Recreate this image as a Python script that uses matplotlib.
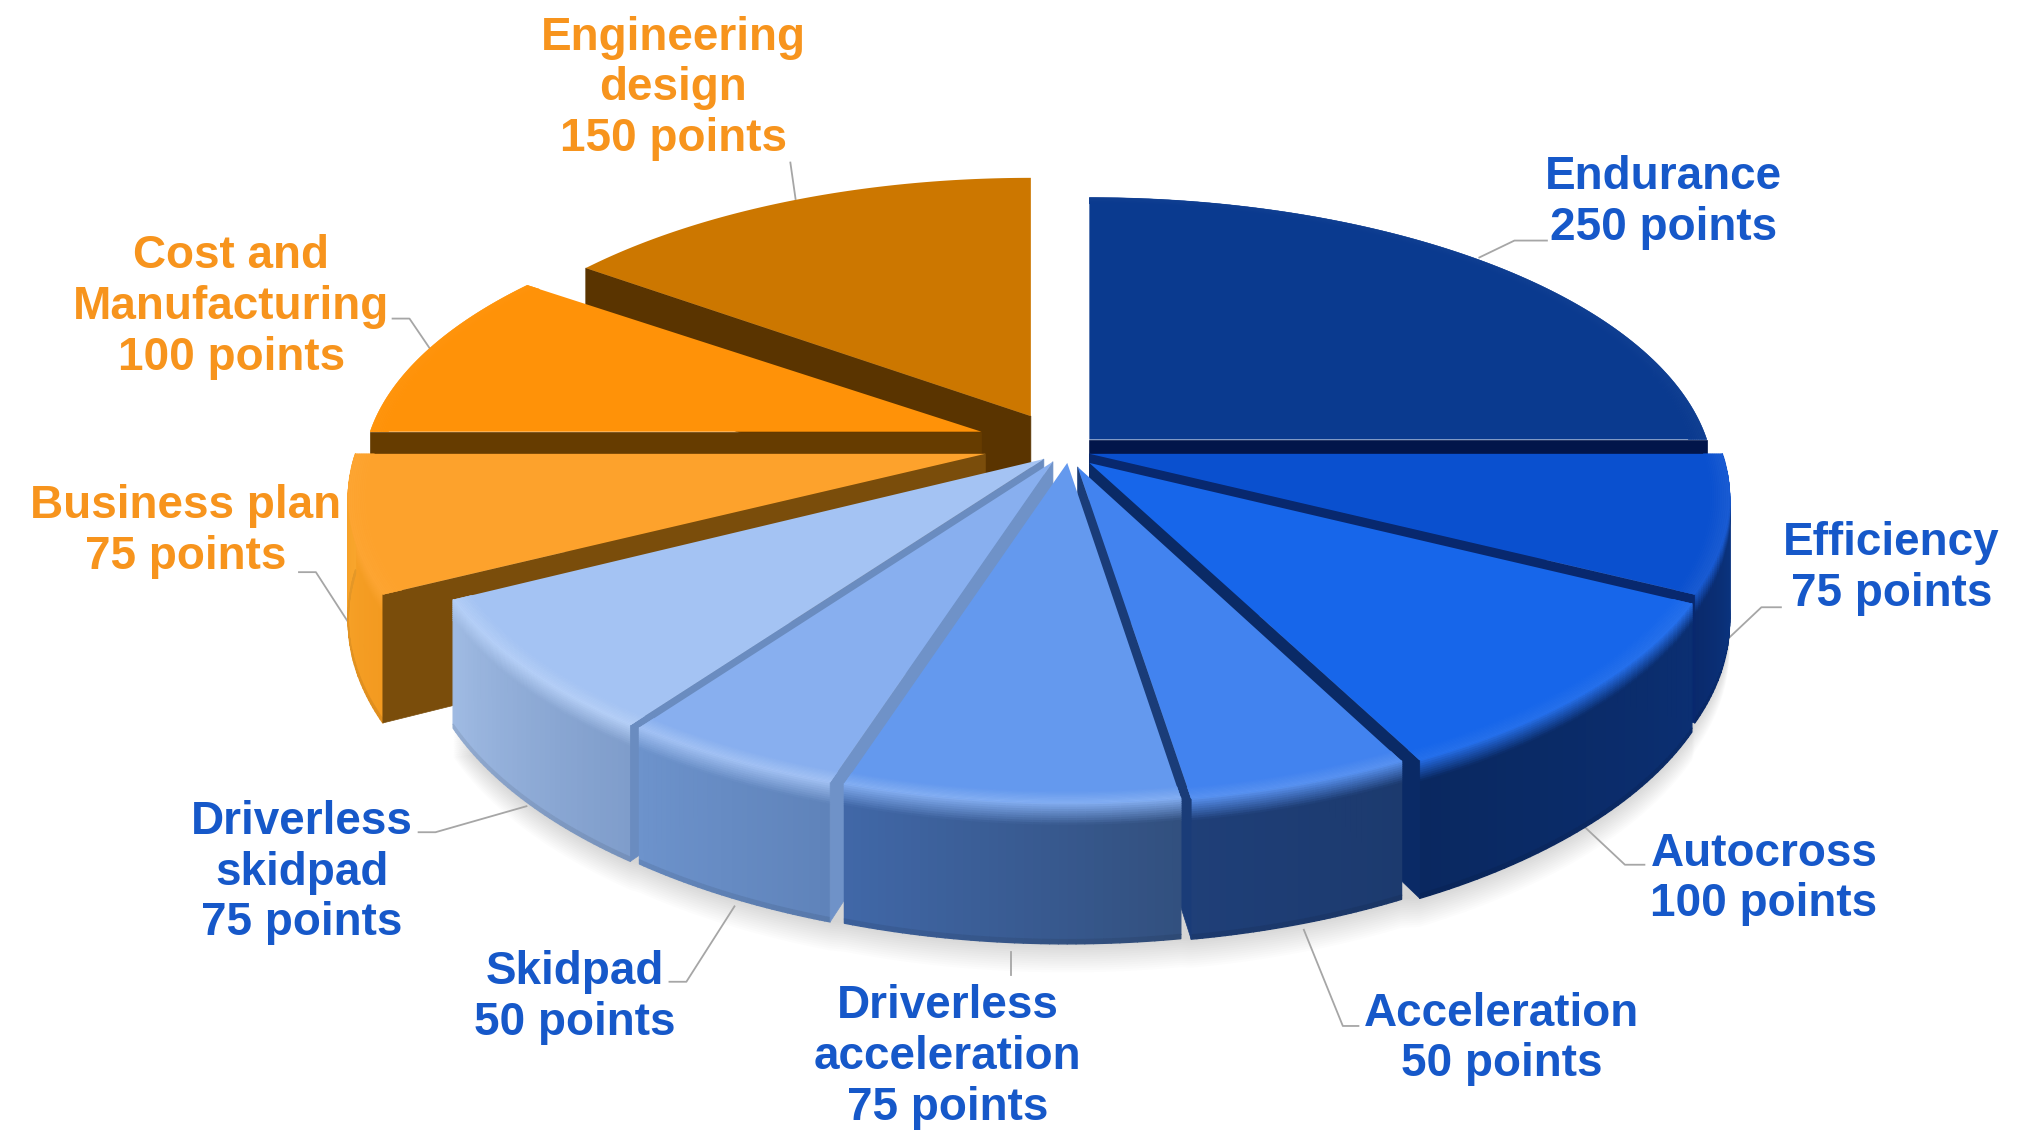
import numpy as np
import matplotlib
matplotlib.use("Agg")
import matplotlib.pyplot as plt
from matplotlib.collections import PolyCollection
from matplotlib.colors import to_rgb

events = ["Endurance", "Efficiency", "Autocross", "Acceleration", "Driverless\nacceleration",
          "Skidpad", "Driverless\nskidpad", "Business plan", "Cost and\nManufacturing", "Engineering\ndesign"]
points = [250, 75, 100, 50, 75, 50, 75, 75, 100, 150]

BLUE = "#1658c9"
ORANGE = "#f7941d"
text_colors = [BLUE] * 7 + [ORANGE] * 3

# look of the slices
top_colors = ["#0a3a8f", "#0a50cf", "#1766ea", "#4283ef", "#6499ee",
              "#88afef", "#a4c3f3", "#fda22c", "#ff9208", "#cc7700"]
wall_right = ["#0a2f78", "#0a3a8c", "#0b2f72", "#1c3a6e", "#32507f",
              "#5f83ba", "#7f9dcb", "#f39a20", "#d98200", "#a86200"]
wall_left = ["#0a2f78", "#0a2a6c", "#0a2860", "#1f3f78", "#4168a8",
             "#6d93cc", "#a0bbe3", "#f8a52c", "#d98200", "#a86200"]
cut_colors = ["#02154a", "#08286e", "#0a2a66", "#1a3c78", "#1a3c78",
              "#6f92c8", "#6a8cc0", "#7a4d0b", "#663c00", "#5a3400"]
bevel = [0.02, 0.05, 0.05, 0.10, 0.18, 0.22, 0.22, 0.05, 0.03, 0.0]

# where each slice tip ends up on the page (pie is exploded by hand in the original)
tips = [(838, 338), (838, 349), (838, 356), (829, 359), (821, 356),
        (810, 355), (803, 353), (758, 349), (755, 332), (793, 320)]
stretch_x = [1, 1.025, 1.02, 1, 1, 1, 1, 1.02, 0.99, 0.97]
stretch_y = [0.965, 1, 1, 0.99, 1, 1, 1, 1, 0.94, 0.95]

# label centres and leader lines, page coordinates
label_pos = [(1280, 156), (1455, 437), (1357, 676), (1155, 799), (729, 813),
             (442, 767), (232, 671), (143, 409), (178, 236), (518, 68)]
leaders = [[(1190, 185), (1165, 185), (1138, 198)],
           [(1370, 467), (1355, 467), (1320, 500)],
           [(1265, 665), (1250, 665), (1218, 635)],
           [(1045, 789), (1033, 789), (1003, 715)],
           [(778, 750), (778, 732)],
           [(515, 755), (528, 755), (565, 697)],
           [(322, 640), (335, 640), (405, 620)],
           [(230, 440), (243, 440), (285, 505)],
           [(302, 245), (315, 245), (332, 270)],
           [(608, 125), (612, 153)]]

W, H = 1567, 869
RX, RY, PERSP, DEPTH = 475, 222, 0.151, 92


def project(theta, r, z, i):
    # theta in degrees clockwise from the back of the pie
    t = np.radians(theta)
    x = r * np.sin(t)
    y = -r * np.cos(t)
    p = 1 / (1 - PERSP * y)
    return tips[i][0] + RX * stretch_x[i] * x * p, tips[i][1] + RY * stretch_y[i] * y * p + DEPTH * z * p


def mix(c1, c2, f):
    return tuple((1 - f) * a + f * b for a, b in zip(to_rgb(c1), to_rgb(c2)))


def draw_shadow(ax, edges):
    for grow in np.linspace(0, 22, 14):
        xs, ys = [], []
        for i in range(1, 7):
            th = np.linspace(edges[i], edges[i + 1], 30)
            x, y = project(th, 1.0, 1.0, i)
            xs.extend(x)
            ys.extend(y + grow)
        ax.fill(xs, ys, color="#000000", alpha=0.010, lw=0, zorder=1)


def draw_slice(ax, i, start, end, zorder):
    light = "#d5e6ff" if i < 7 else "#ffd080"
    rim = mix(top_colors[i], light, bevel[i] * 1.6)

    # outer wall, only the part turned to the viewer
    lo, hi = max(start, 90), min(end, 270)
    if hi > lo:
        ths = np.linspace(lo, hi, 40)
        zs = np.r_[np.linspace(0, 0.16, 11), 0.97, 1.0]
        polys, cols = [], []
        for a, b in zip(ths[:-1], ths[1:]):
            base = mix(wall_right[i], wall_left[i], (a - start) / (end - start))
            for z0, z1 in zip(zs[:-1], zs[1:]):
                x0, y0 = project(a, 1, z0, i)
                x1, y1 = project(b, 1, z0, i)
                x2, y2 = project(b, 1, z1, i)
                x3, y3 = project(a, 1, z1, i)
                polys.append([(x0, y0), (x1, y1), (x2, y2), (x3, y3)])
                zm = (z0 + z1) / 2
                if zm < 0.16:
                    cols.append(mix(rim, base, zm / 0.16))
                elif zm > 0.97:
                    cols.append(mix(base, "#000000", 0.08))
                else:
                    cols.append(base)
        ax.add_collection(PolyCollection(polys, facecolors=cols, edgecolors=cols, linewidths=1.0, zorder=zorder))

    # cut faces, same rule
    for th, normal in ((start, start - 90), (end, end + 90)):
        if np.cos(np.radians(normal)) < 0:
            xa, ya = project(th, 0, 0, i)
            xb, yb = project(th, 1, 0, i)
            xc, yc = project(th, 1, 1, i)
            xd, yd = project(th, 0, 1, i)
            ax.fill([xa, xb, xc, xd], [ya, yb, yc, yd], color=cut_colors[i], lw=0.5, zorder=zorder)

    # top face
    th = np.linspace(start, end, 120)
    x, y = project(th, 1, 0, i)
    x0, y0 = project(start, 0, 0, i)
    ax.fill(np.r_[x0, x], np.r_[y0, y], color=top_colors[i], lw=0, zorder=zorder)

    # soft lighter rim near the outer edge
    if bevel[i] > 0:
        rs = np.linspace(0.97, 1.0, 11)
        for r0, r1 in zip(rs[:-1], rs[1:]):
            f = ((r0 + r1) / 2 - 0.97) / 0.03
            c = mix(top_colors[i], light, bevel[i] * 1.6 * f)
            xo, yo = project(th, r1, 0, i)
            xi, yi = project(th, r0, 0, i)
            ax.fill(np.r_[xo, xi[::-1]], np.r_[yo, yi[::-1]], color=c, ec=c, lw=0.3, zorder=zorder)


fig = plt.figure(figsize=(20.37, 11.30), dpi=100)
ax = fig.add_axes([0, 0, 1, 1])
ax.set_xlim(0, W)
ax.set_ylim(H, 0)
ax.axis("off")

edges = np.r_[0, np.cumsum(points)] / np.sum(points) * 360
draw_shadow(ax, edges)

# back slices first
mids = (edges[:-1] + edges[1:]) / 2
order = np.argsort(-np.cos(np.radians(mids)))
for z, i in enumerate(order):
    draw_slice(ax, i, edges[i], edges[i + 1], 2 + z)

for line in leaders:
    xs, ys = zip(*line)
    ax.plot(xs, ys, color="#a6a6a6", lw=1.3, zorder=1.5)

for name, pts, pos, col in zip(events, points, label_pos, text_colors):
    ax.text(pos[0], pos[1], f"{name}\n{pts} points", color=col, ha="center", va="center",
            family="Liberation Sans", weight="bold", fontsize=33, linespacing=1.2, zorder=30)

fig.savefig("out.png", dpi=100)
